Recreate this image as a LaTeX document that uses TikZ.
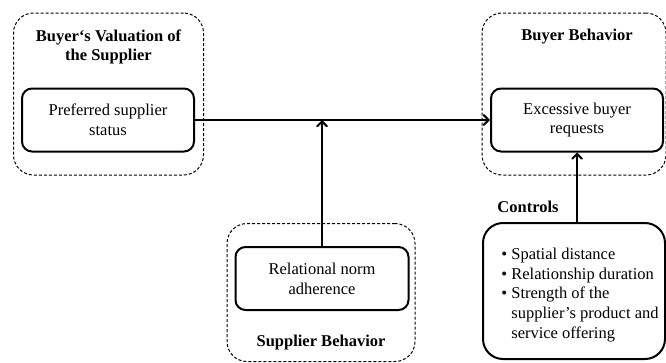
\documentclass[tikz,border=0pt]{standalone}
\usepackage{fontspec}
\setmainfont{Liberation Serif}
\usetikzlibrary{arrows, positioning}

\newcommand{\diagfont}{\fontsize{16.5}{19.8}\selectfont}

\tikzset{
    grpbox/.style={draw, dash pattern=on 3pt off 2pt, line width=1pt, rounded corners=20pt, inner sep=0pt},
    varbox/.style={draw, line width=2pt, rounded corners=10pt, inner sep=0pt, align=center, font=\diagfont},
    ttl/.style={align=center, inner sep=0pt, font=\diagfont\bfseries},
    arr/.style={line width=2pt, -angle 90}
}

\begin{document}
\begin{tikzpicture}[x=1pt, y=-1pt]
        \useasboundingbox (0,0) rectangle (666,362);

        % Groepen (gestippeld)
        \node[grpbox, minimum width=190, minimum height=162] (valgrp) at (108.5,94) {};
        \node[grpbox, minimum width=184, minimum height=162] (buygrp) at (574,94) {};
        \node[grpbox, minimum width=188, minimum height=138] (supgrp) at (321,292.5) {};

        % Titels
        \node[ttl] (valttl) at (108.5,47) {Buyer‘s Valuation of\\the Supplier};
        \node[ttl] (buyttl) at (577,37) {Buyer Behavior};
        \node[ttl] (supttl) at (321,343) {Supplier Behavior};
        \node[ttl] (ctrlttl) at (528,207) {Controls};

        % Variabelen
        \node[varbox, minimum width=172, minimum height=63] (pref) at (108,120) {Preferred supplier\\status};
        \node[varbox, minimum width=172, minimum height=63] (exc) at (577,120) {Excessive buyer\\requests};
        \node[varbox, minimum width=173, minimum height=63] (rel) at (322,278.5) {Relational norm\\adherence};
        \node[varbox, rounded corners=20pt, minimum width=182, minimum height=136] (ctrl) at (574,291) {};
        \node[align=left, inner sep=0pt, font=\diagfont, xshift=6, yshift=-4] (ctrllist) at (ctrl.center)
            {\textbullet\ Spatial distance\\
             \textbullet\ Relationship duration\\
             \textbullet\ Strength of the\\
             \hphantom{\textbullet\ }supplier’s product and\\
             \hphantom{\textbullet\ }service offering};

        % Pijlen
        \draw[arr] (pref.east) -- (exc.west);
        \draw[arr] (rel.north) -- (rel.north |- pref.east);
        \draw[arr] (exc.south |- ctrl.north) -- (exc.south);

\end{tikzpicture}
\end{document}
